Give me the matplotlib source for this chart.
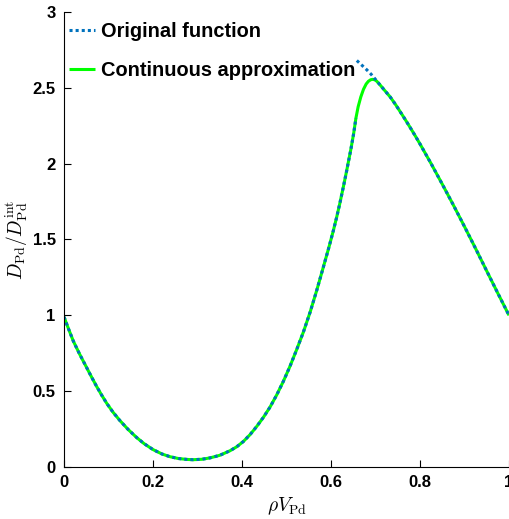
import matplotlib
matplotlib.use('Agg')
from matplotlib import pyplot as plt

# Original function: two branches with a jump near rho*V = 0.656
x_low = [0, 0.011, 0.021, 0.035, 0.051, 0.062, 0.073, 0.084, 0.096, 0.11, 0.126,
         0.144, 0.163, 0.18, 0.2, 0.22, 0.238, 0.257, 0.276, 0.29, 0.31,
         0.328, 0.35, 0.373, 0.388, 0.403, 0.418, 0.433, 0.448, 0.463, 0.478,
         0.493, 0.508, 0.523, 0.538, 0.553, 0.568, 0.583, 0.595, 0.605,
         0.613, 0.62, 0.628, 0.635, 0.64, 0.645, 0.651, 0.656]
y_low = [0.99, 0.905, 0.83, 0.745, 0.655, 0.593, 0.533, 0.477, 0.42, 0.362, 0.305,
         0.248, 0.195, 0.154, 0.115, 0.086, 0.068, 0.056, 0.05, 0.048, 0.051,
         0.06, 0.077, 0.107, 0.133, 0.168, 0.213, 0.267, 0.327, 0.395, 0.475,
         0.565, 0.665, 0.775, 0.89, 1.02, 1.165, 1.32, 1.445, 1.555,
         1.65, 1.74, 1.85, 1.95, 2.025, 2.1, 2.2, 2.3]
x_high = [0.658, 0.669, 0.68, 0.69, 0.71, 0.72, 0.733, 0.745, 0.755, 0.767,
          0.778, 0.79, 0.8, 0.825, 0.85, 0.875, 0.9, 0.925, 0.95, 0.975, 1.0]
y_high = [2.68, 2.65, 2.62, 2.59, 2.52, 2.485, 2.44, 2.39, 2.345, 2.29,
          2.238, 2.18, 2.13, 2.0, 1.865, 1.727, 1.585, 1.44, 1.292, 1.145, 1.0]

# Continuous approximation: bridge between the two branches
x_bridge = [0.661, 0.667, 0.673, 0.679, 0.684, 0.689, 0.694, 0.699, 0.703]
y_bridge = [2.375, 2.44, 2.49, 2.525, 2.543, 2.553, 2.556, 2.552, 2.543]

x_cont = x_low + x_bridge + x_high[4:]
y_cont = y_low + y_bridge + y_high[4:]

plt.rcParams['mathtext.fontset'] = 'cm'
plt.rcParams['font.family'] = 'Liberation Sans'

fig = plt.figure(figsize=(5.09, 5.19), dpi=100)
ax = fig.add_axes([0.1257, 0.1002, 0.8743, 0.8767])

l_cont, = ax.plot(x_cont, y_cont, color='#00ff00', lw=2.2,
                  solid_capstyle='butt', solid_joinstyle='round')
l_orig, = ax.plot(x_low, y_low, color='#0072bd', lw=2.2, linestyle=(0, (1, 1)))
ax.plot(x_high, y_high, color='#0072bd', lw=2.2, linestyle=(0, (1, 1)))

ax.set_xlim(0, 1)
ax.set_ylim(0, 3)
ax.set_xticks([0, 0.2, 0.4, 0.6, 0.8, 1])
ax.set_xticklabels(['0', '0.2', '0.4', '0.6', '0.8', '1'])
ax.set_yticks([0, 0.5, 1, 1.5, 2, 2.5, 3])
ax.set_yticklabels(['0', '0.5', '1', '1.5', '2', '2.5', '3'])
ax.tick_params(direction='in', length=5, width=0.8, labelsize=12, pad=6)
for lab in ax.get_xticklabels() + ax.get_yticklabels():
    lab.set_fontweight('bold')
ax.spines['top'].set_visible(False)
ax.spines['right'].set_visible(False)

ax.set_xlabel(r'$\rho V_{\mathrm{Pd}}$', fontsize=14, labelpad=4)
ax.set_ylabel(r'$D_{\mathrm{Pd}}/D_{\mathrm{Pd}}^{\mathrm{int}}$', fontsize=14, labelpad=2)

ax.legend([l_orig, l_cont], ['Original function', 'Continuous approximation'],
          loc='upper left', frameon=False, prop={'weight': 'bold', 'size': 14.4},
          handlelength=1.3, handletextpad=0.3, labelspacing=1.0,
          borderpad=0.2, borderaxespad=0.05, bbox_to_anchor=(0, 0.99))

plt.savefig('out.png', dpi=100)
